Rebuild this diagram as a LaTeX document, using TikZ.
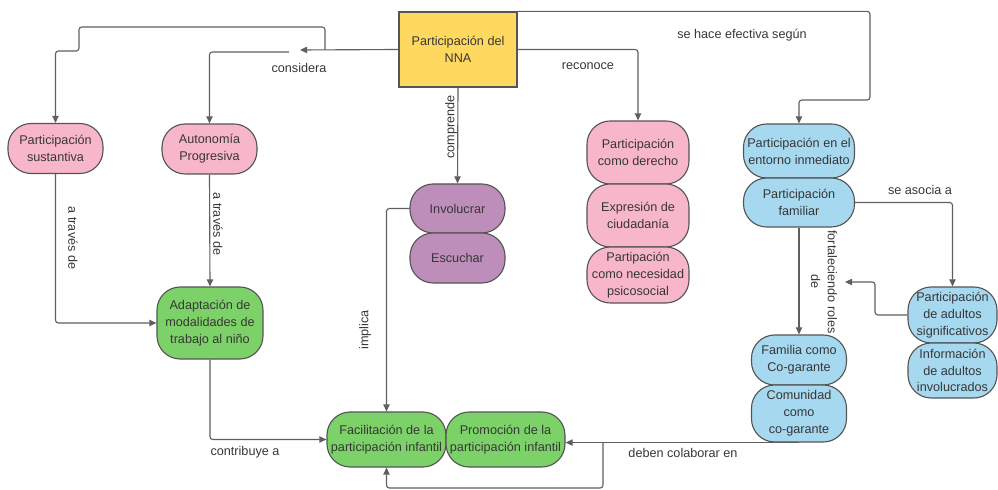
\documentclass[tikz,border=0pt]{standalone}
\usepackage{fontspec}
\setmainfont{Liberation Sans}
\usetikzlibrary{arrows.meta}

\definecolor{amarillo}{RGB}{255,216,95}
\definecolor{rosa}{RGB}{248,182,202}
\definecolor{verde}{RGB}{124,210,104}
\definecolor{lila}{RGB}{190,142,186}
\definecolor{celeste}{RGB}{166,216,240}
\definecolor{borde}{RGB}{85,85,85}
\definecolor{linea}{RGB}{95,95,95}
\definecolor{texto}{RGB}{55,55,55}

\tikzset{
  caja/.style={draw=borde,line width=0.8pt,align=center,text=texto,inner sep=1pt},
  burbuja/.style={caja,rounded corners=0.58cm},
  arr/.style={-{Triangle[length=5pt,width=4.5pt]},draw=linea,line width=0.8pt},
  lin/.style={draw=linea,line width=0.8pt},
  lbl/.style={text=texto,align=center,inner sep=1pt}
}

\begin{document}
\begin{tikzpicture}[x=0.025cm,y=-0.025cm,font=\fontsize{9}{12}\selectfont]
\useasboundingbox (0,0) rectangle (998,490);

% nodos
\node (nna) at (458,49.5) [caja,fill=amarillo,minimum width=2.95cm,minimum height=1.875cm] {Participación del\\NNA};

\node (sust) at (55.5,148.5) [burbuja,fill=rosa,minimum width=2.375cm,minimum height=1.25cm] {Participación\\sustantiva};
\node (auton) at (209.5,149) [burbuja,fill=rosa,minimum width=2.375cm,minimum height=1.25cm] {Autonomía\\Progresiva};
\node (adapt) at (210,323) [burbuja,fill=verde,minimum width=2.65cm,minimum height=1.8cm] {Adaptación de\\modalidades de\\trabajo al niño};

\node (invol) at (457.5,208.5) [burbuja,fill=lila,minimum width=2.375cm,minimum height=1.225cm] {Involucrar};
\node (escu) at (457.5,258) [burbuja,fill=lila,minimum width=2.375cm,minimum height=1.25cm] {Escuchar};

\node (derecho) at (638,152.5) [burbuja,fill=rosa,minimum width=2.55cm,minimum height=1.575cm] {Participación\\como derecho};
\node (ciud) at (638,215.5) [burbuja,fill=rosa,minimum width=2.55cm,minimum height=1.575cm] {Expresión de\\ciudadanía};
\node (psico) at (638,275) [burbuja,fill=rosa,minimum width=2.55cm,minimum height=1.4cm] {Partipación\\como necesidad\\psicosocial};

\node (entorno) at (799,151) [burbuja,fill=celeste,minimum width=2.775cm,minimum height=1.35cm] {Participación en el\\entorno inmediato};
\node (familiar) at (799,202.5) [burbuja,fill=celeste,minimum width=2.775cm,minimum height=1.225cm] {Participación\\familiar};

\node (adultsig) at (952.5,315) [burbuja,fill=celeste,minimum width=2.225cm,minimum height=1.4cm] {Participación\\de adultos\\significativos};
\node (info) at (952.5,370.5) [burbuja,fill=celeste,minimum width=2.225cm,minimum height=1.375cm] {Información\\de adultos\\involucrados};

\node (famcog) at (799,360) [burbuja,fill=celeste,minimum width=2.375cm,minimum height=1.25cm] {Familia como\\Co-garante};
\node (comun) at (799,413.5) [burbuja,fill=celeste,minimum width=2.375cm,minimum height=1.425cm] {Comunidad\\como\\co-garante};

\node (facil) at (386.5,439.5) [burbuja,fill=verde,minimum width=2.975cm,minimum height=1.375cm] {Facilitación de la\\participación infantil};
\node (promo) at (505.5,439.5) [burbuja,fill=verde,minimum width=2.975cm,minimum height=1.375cm] {Promoción de la\\participación infantil};

% etiquetas
\node (lcons) at (299,68) [lbl] {considera};
\node (lcomp) at (451,127) [lbl,rotate=90] {comprende};
\node (lreco) at (588,66) [lbl] {reconoce};
\node (lefec) at (742,35) [lbl] {se hace efectiva según};
\node (ltra1) at (73,238) [lbl,rotate=-90] {a través de};
\node (ltra2) at (218,224) [lbl,rotate=-90] {a través de};
\node (lcont) at (245,452) [lbl] {contribuye a};
\node (limpl) at (365,330) [lbl,rotate=90] {implica};
\node (lfort) at (824,282) [lbl,rotate=-90] {fortaleciendo roles\\de};
\node (lasoc) at (920,190) [lbl] {se asocia a};
\node (ldeb) at (683,453) [lbl] {deben colaborar en};

\coordinate (cons) at (300,50);
\coordinate (consb) at (325,50);
\coordinate (consc) at (289,52);
\coordinate (fortp) at (845,282);
\coordinate (split) at (603,442);

% conectores
\draw [arr] (nna.west) -- (cons);
\draw [arr,rounded corners=2pt] (consb) -- ++(0,-23) -| (79,51) -| (sust.north);
\draw [arr,rounded corners=2pt] (consc) -| (auton.north);
\draw [arr] (nna.south) -- (invol.north);
\draw [arr,rounded corners=2pt] (nna.east) -| (derecho.north);
\draw [arr,rounded corners=2pt] (nna.north east) -| (870,100) -| (entorno.north);

\draw [arr,rounded corners=2pt] (sust.south) |- (adapt.west);
\draw [arr] (auton.south) -- (adapt.north);
\draw [arr,rounded corners=2pt] (adapt.south) |- (facil.west);
\draw [arr,rounded corners=2pt] (invol.west) -| (facil.north);

\draw [arr] (familiar.south) -- (famcog.north);
\draw [arr,rounded corners=2pt] (familiar.east) -| (adultsig.north);
\draw [arr,rounded corners=2pt] (adultsig.west) -| (875,282) -- (fortp);

\draw [arr] (comun.south) -- (comun.south -| promo.east);
\draw [arr,rounded corners=2pt] (split) -- ++(0,46) -| (facil.south);

\end{tikzpicture}
\end{document}
